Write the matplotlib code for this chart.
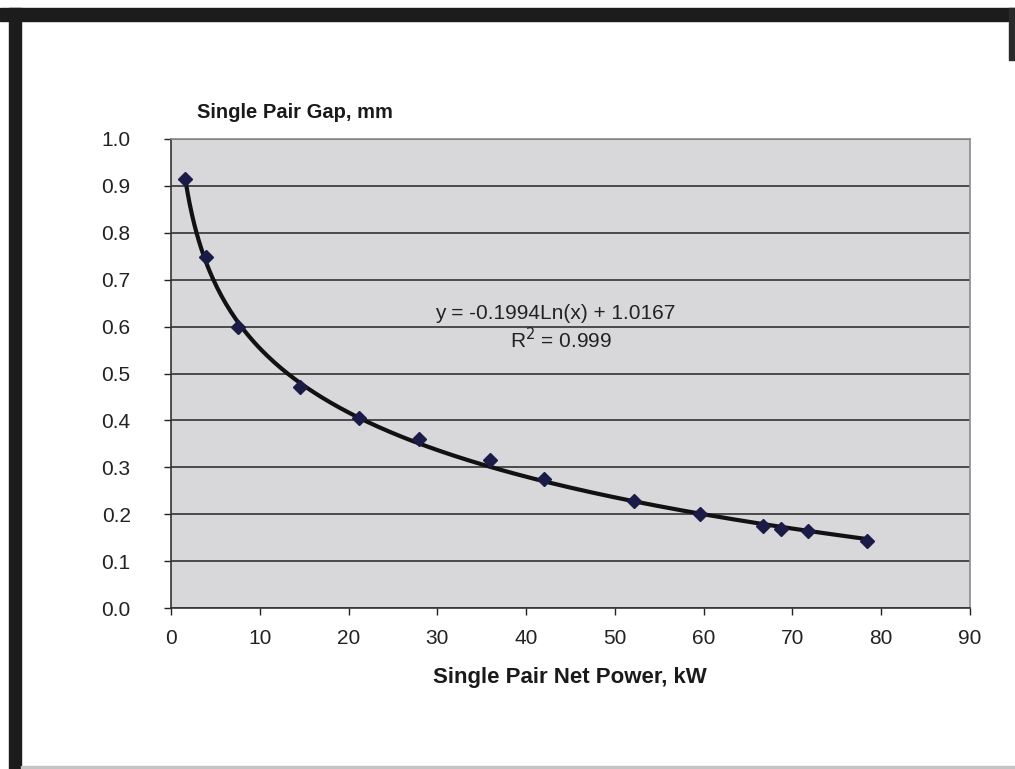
import matplotlib.pyplot as plt
import numpy as np
from matplotlib.patches import Rectangle

plt.rcParams['font.family'] = ['Liberation Sans', 'DejaVu Sans']

# data
power_kw = [1.6, 3.9, 7.5, 14.5, 21.2, 27.9, 35.9, 42.0, 52.1, 59.6, 66.7, 68.7, 71.7, 78.4]
gap_mm = [0.915, 0.748, 0.599, 0.471, 0.405, 0.360, 0.316, 0.275, 0.228, 0.200, 0.175, 0.168, 0.164, 0.143]
x_ticks = [0, 10, 20, 30, 40, 50, 60, 70, 80, 90]
y_ticks = [0.0, 0.1, 0.2, 0.3, 0.4, 0.5, 0.6, 0.7, 0.8, 0.9, 1.0]
eq_text = "y = -0.1994Ln(x) + 1.0167"
r2_text = "R$^2$ = 0.999"

W, H = 1015, 769
fig = plt.figure(figsize=(W / 100, H / 100), dpi=100)
fig.patch.set_facecolor('white')

# scanned page border
fig.patches.append(Rectangle((0, 1 - 21 / H), 1, 13 / H, transform=fig.transFigure,
                             color='#1c1c1c', zorder=0))
fig.patches.append(Rectangle((9 / W, 0), 12 / W, 1 - 8 / H, transform=fig.transFigure,
                             color='#1c1c1c', zorder=0))
fig.patches.append(Rectangle((1009 / W, 1 - 60 / H), 6 / W, 52 / H, transform=fig.transFigure,
                             color='#2a2a2a', zorder=0))
fig.patches.append(Rectangle((21 / W, 0), 1, 3 / H, transform=fig.transFigure,
                             color='#c4c4c4', zorder=0))

left, right, top, bottom = 171, 970, 139, 608
ax = fig.add_axes([left / W, 1 - bottom / H, (right - left) / W, (bottom - top) / H])
ax.set_facecolor('#d8d8da')

# log trendline fitted to the points
b, a = np.polyfit(np.log(power_kw), gap_mm, 1)
xs = np.linspace(min(power_kw), max(power_kw), 300)
ax.plot(xs, b * np.log(xs) + a, color='#111111', lw=3, zorder=3)
ax.plot(power_kw, gap_mm, 'D', color='#1b1b48', markersize=7, zorder=4)

ax.set_xlim(0, 90)
ax.set_ylim(0, 1.0)
ax.set_xticks(x_ticks)
ax.set_yticks(y_ticks)
ax.set_yticklabels([f"{v:.1f}" for v in y_ticks])
ax.tick_params(direction='out', length=5, width=1, labelsize=15, colors='#222222')
ax.tick_params(axis='x', pad=10)
ax.tick_params(axis='y', pad=24)
ax.grid(axis='y', color='#333333', lw=1.2)
ax.set_axisbelow(True)
for s in ['left', 'bottom']:
    ax.spines[s].set_color('#333333')
    ax.spines[s].set_linewidth(1.2)
for s in ['top', 'right']:
    ax.spines[s].set_color('#8c8c8c')
    ax.spines[s].set_linewidth(1.2)

fig.text(555 / W, 1 - 314 / H, eq_text, ha='center', va='center',
         fontsize=15, color='#222222', zorder=5)
fig.text(561 / W, 1 - 340 / H, r2_text, ha='center', va='center',
         fontsize=15, color='#222222', zorder=5)

fig.text(197 / W, 1 - 112 / H, "Single Pair Gap, mm", ha='left', va='center',
         fontsize=14.5, fontweight='bold', color='#1a1a1a')
fig.text(570 / W, 1 - 678 / H, "Single Pair Net Power, kW", ha='center', va='center',
         fontsize=16, fontweight='bold', color='#1a1a1a')

fig.savefig('out.png', dpi=100)
